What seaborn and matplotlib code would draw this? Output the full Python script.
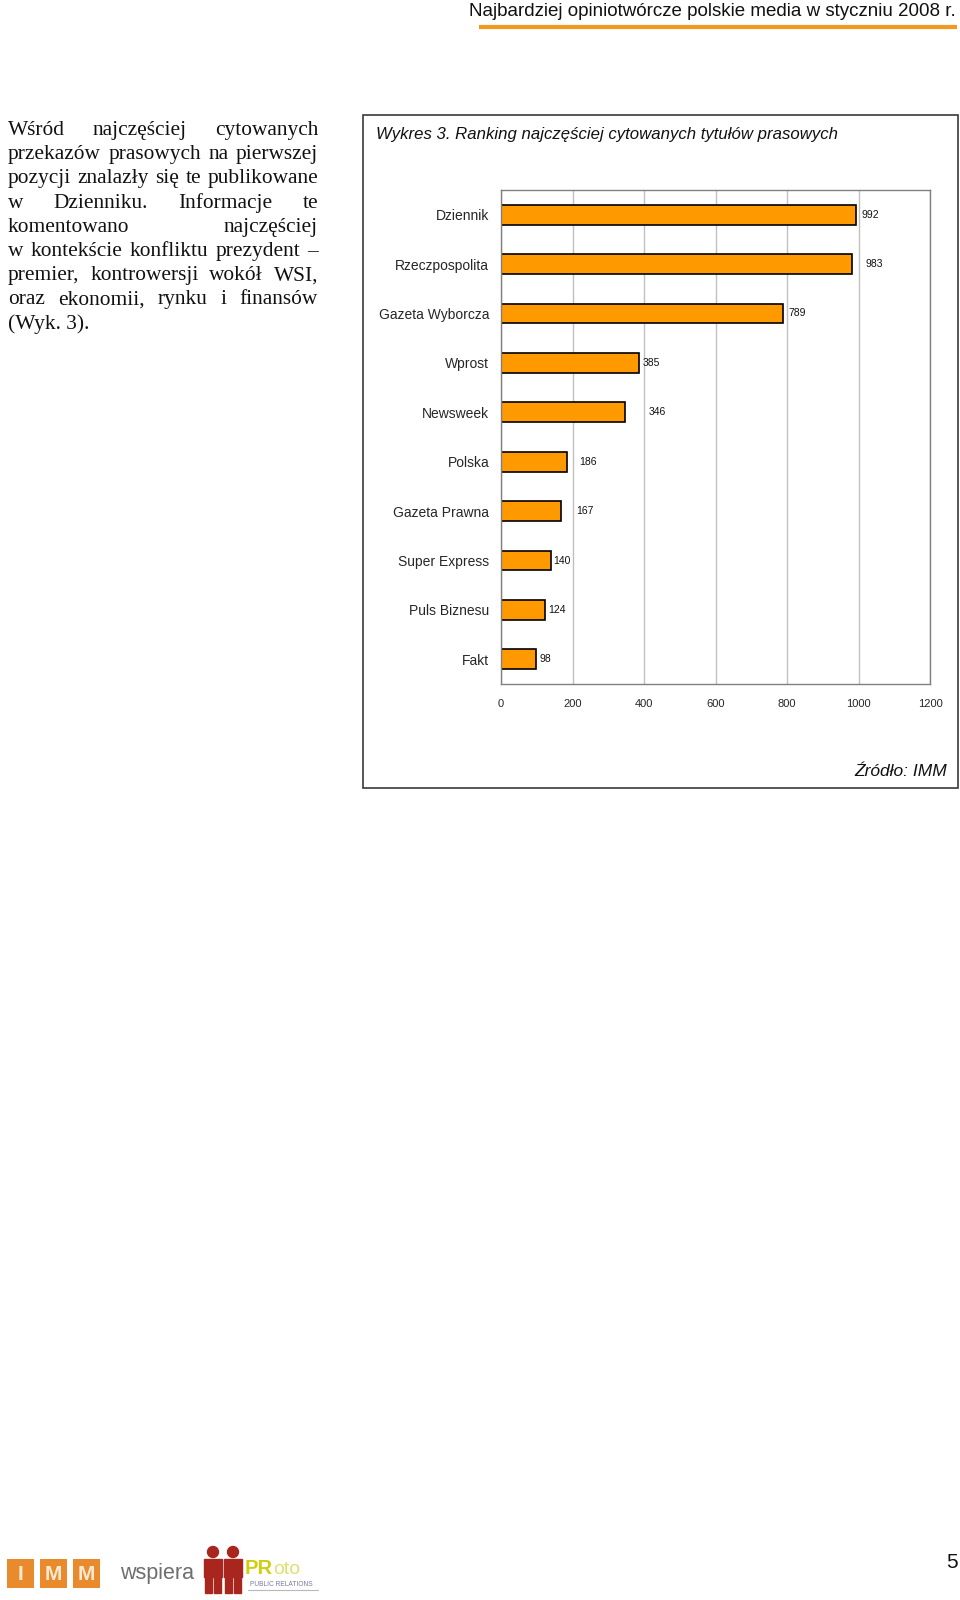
import matplotlib
matplotlib.use("Agg")
import matplotlib.pyplot as plt
from matplotlib.patches import Rectangle, Circle
import seaborn as sns
import pandas as pd

# chart data (Wykres 3)
titles = ["Dziennik", "Rzeczpospolita", "Gazeta Wyborcza", "Wprost", "Newsweek",
          "Polska", "Gazeta Prawna", "Super Express", "Puls Biznesu", "Fakt"]
counts = [992, 983, 789, 385, 346, 186, 167, 140, 124, 98]
x_ticks = [0, 200, 400, 600, 800, 1000, 1200]

# where Excel dropped the value labels (offset from bar end, data units)
label_dx = [17, 37, 15, 11, 67, 33, 44, 5, 7, 10]

paragraph = [
    "Wśród najczęściej cytowanych",
    "przekazów prasowych na pierwszej",
    "pozycji znalazły się te publikowane",
    "w Dzienniku. Informacje te",
    "komentowano najczęściej",
    "w kontekście konfliktu prezydent –",
    "premier, kontrowersji wokół WSI,",
    "oraz ekonomii, rynku i finansów",
    "(Wyk. 3).",
]

sns.set_style("white")
plt.rcParams["font.family"] = ["Liberation Sans", "DejaVu Sans"]

W, H = 960, 1600
fig = plt.figure(figsize=(9.6, 16), dpi=100)

# page layer in pixel coords
page = fig.add_axes([0, 0, 1, 1], zorder=0)
page.set_xlim(0, W)
page.set_ylim(H, 0)
page.axis("off")
renderer = fig.canvas.get_renderer()

# header
page.text(956, 11, "Najbardziej opiniotwórcze polskie media w styczniu 2008 r.",
          ha="right", va="center", fontsize=13.5, color="#111111")
page.plot([479, 957], [26.5, 26.5], color="#F39A1E", lw=3, solid_capstyle="butt")

# justified paragraph
serif = dict(fontsize=15.4, family=["Liberation Serif", "DejaVu Serif"], color="#111111",
             va="baseline")
x0, x1, y0, step = 8, 318, 135, 24.2
for k, line in enumerate(paragraph):
    y = y0 + k * step
    words = line.split()
    if k == len(paragraph) - 1 or len(words) == 1:
        page.text(x0, y, line, ha="left", **serif)
        continue
    texts = [page.text(0, y, w, ha="left", **serif) for w in words]
    widths = [t.get_window_extent(renderer).width for t in texts]
    gap = max((x1 - x0 - sum(widths)) / (len(words) - 1), 3)
    x = x0
    for t, wd in zip(texts, widths):
        t.set_x(x)
        x += wd + gap

# chart frame
page.add_patch(Rectangle((363, 115), 958 - 363, 788 - 115, fill=False,
                         edgecolor="#3a3a3a", lw=1.2))
page.text(376, 134, "Wykres 3. Ranking najczęściej cytowanych tytułów prasowych",
          ha="left", va="center", fontsize=12.1, style="italic", color="#111111")
page.text(947, 771, "Źródło: IMM", ha="right", va="center", fontsize=12.5,
          style="italic", color="#111111")

# bar chart
L, R, T, B = 501, 930, 190, 684
ax = fig.add_axes([L / W, 1 - B / H, (R - L) / W, (B - T) / H], zorder=2)
df = pd.DataFrame({"title": titles, "count": counts})
sns.barplot(data=df, x="count", y="title", orient="h", color="#FF9900",
            edgecolor="black", linewidth=1.2, width=0.4, saturation=1, ax=ax)
ax.set_xlim(0, 1200)
ax.set_ylim(len(titles) - 0.5, -0.5)
ax.set_xticks(x_ticks)
ax.set_xticklabels([str(t) for t in x_ticks], fontsize=8)
ax.set_yticks(range(len(titles)))
ax.set_yticklabels(titles, fontsize=10)
ax.set_yticks([i - 0.5 for i in range(len(titles) + 1)], minor=True)
ax.tick_params(axis="y", which="major", length=0, pad=8.5)
ax.tick_params(axis="y", which="minor", length=3, color="#808080", direction="out")
ax.tick_params(axis="x", length=3, color="#808080", direction="out", pad=7.5)
ax.set_xlabel("")
ax.set_ylabel("")
ax.grid(axis="x", color="#C0C0C0", lw=1)
ax.set_axisbelow(True)
for s in ax.spines.values():
    s.set_visible(True)
    s.set_color("#808080")
    s.set_linewidth(1)

for i, (v, dx) in enumerate(zip(counts, label_dx)):
    ax.text(v + dx, i, str(v), ha="left", va="center", fontsize=7.5, color="#111111")

# footer: IMM logo
for bx, letter in zip([7, 40, 73], ["I", "M", "M"]):
    page.add_patch(Rectangle((bx, 1559), 27, 29, facecolor="#E98A2C", edgecolor="none"))
    page.text(bx + 13.5, 1574, letter, ha="center", va="center", fontsize=15,
              fontweight="bold", color="#FBEAD3")
page.text(120, 1574, "wspiera", ha="left", va="center", fontsize=15.5, color="#6e6e6e")

# footer: PRoto logo
for fx in [204, 224]:
    page.add_patch(Circle((fx + 9, 1552), 5.5, color="#A8261E"))
    page.add_patch(Rectangle((fx, 1559), 18, 18, color="#A8261E"))
    page.add_patch(Rectangle((fx + 1, 1577), 7, 16, color="#A8261E"))
    page.add_patch(Rectangle((fx + 10, 1577), 7, 16, color="#A8261E"))
pr = page.text(245, 1569, "PR", ha="left", va="center", fontsize=14.5, fontweight="bold",
               color="#CFCF10")
pr_w = pr.get_window_extent(renderer).width
page.text(245 + pr_w + 0.5, 1569, "oto", ha="left", va="center", fontsize=14,
          color="#E0E070")
page.text(250, 1585, "PUBLIC RELATIONS", ha="left", va="center", fontsize=4.8,
          color="#7a7aa0")
page.plot([248, 318], [1590, 1590], color="#B8B8B8", lw=0.8)

page.text(958, 1563, "5", ha="right", va="center", fontsize=15, color="#111111")

fig.savefig("out.png", dpi=100)
